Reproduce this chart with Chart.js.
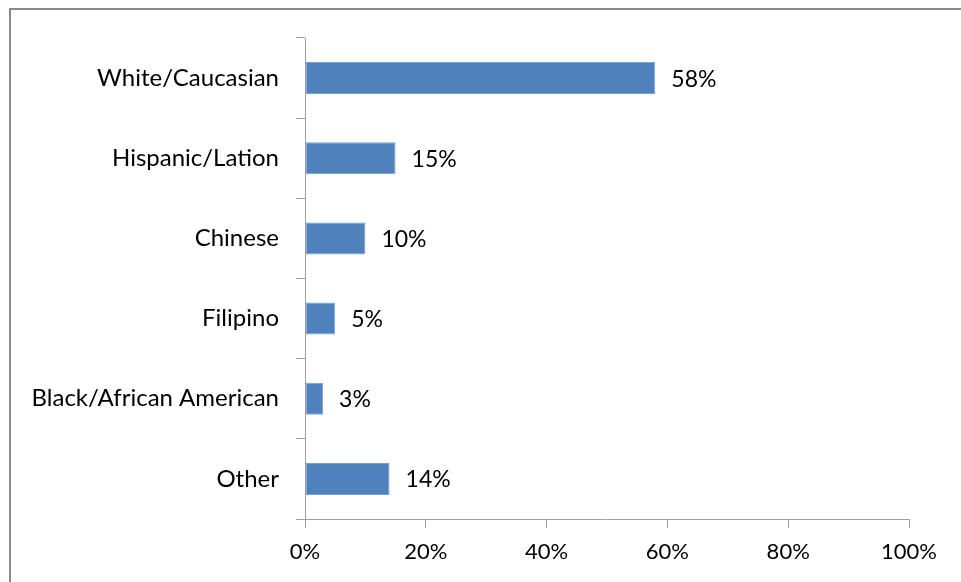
<!DOCTYPE html>
<html><head><meta charset="utf-8">
<script src="https://cdn.jsdelivr.net/npm/chart.js@4/dist/chart.umd.min.js"></script>
<style>html,body{margin:0;padding:0;background:#fff;overflow:hidden}#wrap{width:961px;height:582px;position:relative}</style>
</head><body><div id="wrap"><canvas id="c" width="961" height="582"></canvas></div>
<script>
const categories = ["White/Caucasian","Hispanic/Lation","Chinese","Filipino","Black/African American","Other"];
const values = [58,15,10,5,3,14];
const xTicks = [0,20,40,60,80,100];
const FONT = "Lato";
const frame = {id:'frame', beforeDraw(c){const x=c.ctx;x.save();x.strokeStyle='#8a8a8a';x.lineWidth=2;x.strokeRect(10,9,1000,1000);x.restore();}};
const labels = {id:'labels', afterDatasetsDraw(c){const x=c.ctx;const m=c.getDatasetMeta(0);x.save();x.fillStyle='#000';x.font='23px '+FONT;x.textBaseline='middle';x.textAlign='left';
 m.data.forEach((b,i)=>{x.fillText(values[i]+'%', b.x+16, b.y+1);});x.restore();}};
new Chart(document.getElementById('c'),{
 type:'bar',
 data:{labels:categories,datasets:[{data:values,backgroundColor:'#4f81bd',borderColor:'#7aa0cf',borderWidth:1,borderSkipped:false,categoryPercentage:1,barPercentage:0.4}]},
 options:{indexAxis:'y',responsive:false,animation:false,
  layout:{padding:{left:0,top:38,right:52,bottom:0}},
  plugins:{legend:{display:false},tooltip:{enabled:false}},
  scales:{
   x:{min:0,max:100,afterBuildTicks(s){s.ticks=xTicks.map(v=>({value:v}));},afterFit(s){s.height=63;},
      grid:{drawOnChartArea:false,drawTicks:true,tickLength:9,color:'#a0a0a0'},border:{color:'#a0a0a0',width:1},
      ticks:{color:'#000',font:{family:FONT,size:22},padding:11,callback:v=>v+'%',maxRotation:0}},
   y:{afterFit(s){s.width=305;},offset:true,
      grid:{offset:true,drawOnChartArea:false,drawTicks:true,tickLength:9,color:'#a0a0a0'},border:{color:'#a0a0a0',width:1},
      ticks:{color:'#000',font:{family:FONT,size:24},padding:17}}
  }},
 plugins:[frame,labels]
});
</script></body></html>
